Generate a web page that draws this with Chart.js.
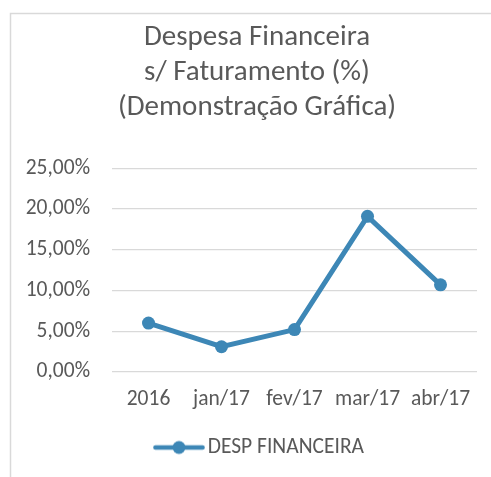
<!DOCTYPE html>
<html>
<head>
<meta charset="utf-8">
<script src="https://cdn.jsdelivr.net/npm/chart.js@4"></script>
<style>
  html, body { margin: 0; padding: 0; background: #ffffff; }
  #wrap { width: 491px; height: 477px; position: relative; }
</style>
</head>
<body>
<div id="wrap"><canvas id="c" width="491" height="477"></canvas></div>
<script>
const titleLines = ["Despesa Financeira", "s/ Faturamento (%)", "(Demonstração Gráfica)"];
const categories = ["2016", "jan/17", "fev/17", "mar/17", "abr/17"];
const seriesName = "DESP FINANCEIRA";
const despFinanceira = [6.0, 3.1, 5.2, 19.1, 10.7];
const yTicks = [0, 5, 10, 15, 20, 25];

const FONT = "Carlito, Calibri, Lato, sans-serif";
const TEXT = "#595959";
const LINE = "#3d87b6";

// legend marker: line through a circle (drawn in the right part of the image)
const marker = document.createElement('canvas');
marker.width = 90; marker.height = 16;
(function(){
  const m = marker.getContext('2d');
  m.strokeStyle = LINE; m.lineWidth = 4.7; m.lineCap = 'round';
  m.beginPath(); m.moveTo(40.5, 8); m.lineTo(87.5, 8); m.stroke();
  m.fillStyle = LINE; m.beginPath(); m.arc(64, 8, 6.5, 0, Math.PI*2); m.fill();
})();

const borderPlugin = {
  id: 'border',
  afterLayout(chart) {
    const t = chart.titleBlock;
    if (t) { t.left += 13.5; t.right += 13.5; }
  },
  beforeDraw(chart) {
    const ctx = chart.ctx;
    ctx.save();
    ctx.strokeStyle = '#d9d9d9';
    ctx.lineWidth = 1.5;
    ctx.beginPath();
    ctx.moveTo(10.5, chart.height);
    ctx.lineTo(10.5, 13.5);
    ctx.lineTo(chart.width, 13.5);
    ctx.stroke();
    ctx.restore();
  }
};

new Chart(document.getElementById('c'), {
  type: 'line',
  data: {
    labels: categories,
    datasets: [{
      label: seriesName,
      data: despFinanceira,
      borderColor: LINE,
      backgroundColor: LINE,
      borderWidth: 5,
      pointRadius: 6.5,
      pointHoverRadius: 6.5,
      pointBackgroundColor: LINE,
      pointBorderWidth: 0,
      tension: 0,
      pointStyle: 'circle'
    }]
  },
  options: {
    responsive: false,
    animation: false,
    layout: { padding: { left: 10, top: 13, right: 14, bottom: 8.75 } },
    plugins: {
      title: {
        display: true,
        text: titleLines,
        color: TEXT,
        font: { family: FONT, size: 29, weight: 'normal', lineHeight: 1.21 },
        padding: { top: 7, bottom: 43 }
      },
      legend: {
        position: 'bottom',
        labels: {
          color: TEXT,
          font: { family: FONT, size: 21.5 },
          usePointStyle: true,
          pointStyle: marker,
          pointStyleWidth: 74,
          padding: 10,
          generateLabels(chart) {
            return [{ text: seriesName, pointStyle: marker, fillStyle: LINE, strokeStyle: LINE, lineWidth: 0, datasetIndex: 0, fontColor: TEXT }];
          }
        }
      },
      tooltip: { enabled: false }
    },
    scales: {
      x: {
        offset: true,
        grid: { display: false, drawTicks: false },
        border: { display: false },
        ticks: { color: TEXT, font: { family: FONT, size: 21.5 }, padding: 15, maxRotation: 0, autoSkip: false },
        afterFit(scale) { scale.height = 54.75; }
      },
      y: {
        min: 0, max: 25,
        afterBuildTicks(scale) { scale.ticks = yTicks.map(v => ({ value: v })); },
        grid: { color: '#d9d9d9', lineWidth: 1.3, drawTicks: false },
        border: { display: false },
        ticks: {
          color: TEXT, font: { family: FONT, size: 21.5 }, padding: 22,
          callback: v => v.toFixed(2).replace('.', ',') + '%'
        },
        afterFit(scale) { scale.width = 102; }
      }
    }
  },
  plugins: [borderPlugin]
});
</script>
</body>
</html>
